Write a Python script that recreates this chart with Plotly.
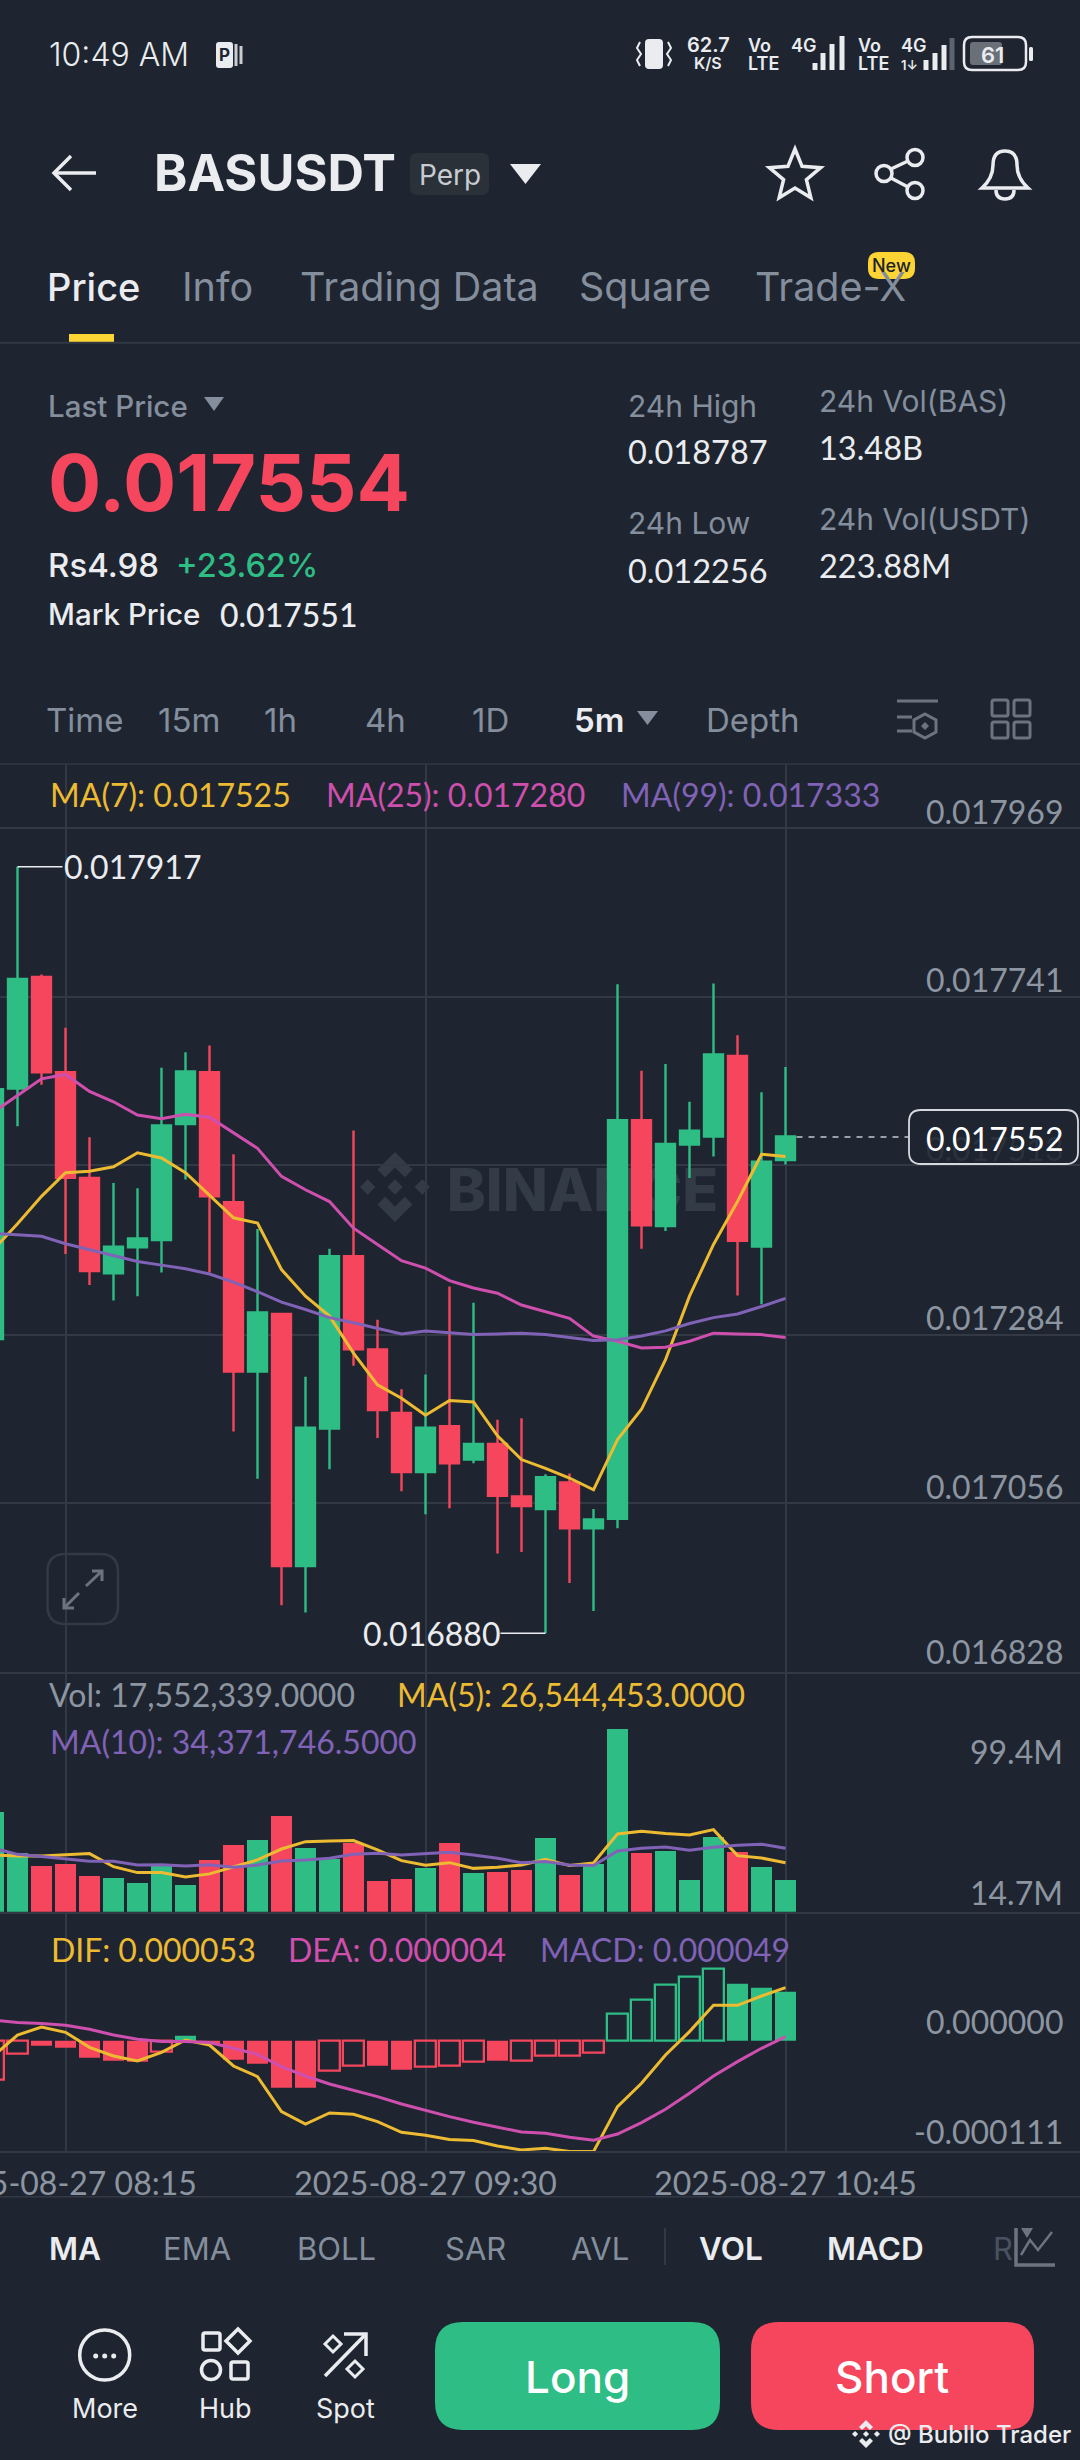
import math
import pandas as pd
import plotly.graph_objects as go

# candles, 5m, prices in 1e-6 USDT
times = [
    "2025-08-27 08:00", "2025-08-27 08:05", "2025-08-27 08:10", "2025-08-27 08:15", "2025-08-27 08:20",
    "2025-08-27 08:25", "2025-08-27 08:30", "2025-08-27 08:35", "2025-08-27 08:40", "2025-08-27 08:45",
    "2025-08-27 08:50", "2025-08-27 08:55", "2025-08-27 09:00", "2025-08-27 09:05", "2025-08-27 09:10",
    "2025-08-27 09:15", "2025-08-27 09:20", "2025-08-27 09:25", "2025-08-27 09:30", "2025-08-27 09:35",
    "2025-08-27 09:40", "2025-08-27 09:45", "2025-08-27 09:50", "2025-08-27 09:55", "2025-08-27 10:00",
    "2025-08-27 10:05", "2025-08-27 10:10", "2025-08-27 10:15", "2025-08-27 10:20", "2025-08-27 10:25",
    "2025-08-27 10:30", "2025-08-27 10:35", "2025-08-27 10:40", "2025-08-27 10:45",
]
tick_times = ["2025-08-27 08:15", "2025-08-27 09:30", "2025-08-27 10:45"]

opens = [17278, 17617, 17768, 17639, 17496, 17367, 17402, 17412, 17569, 17639, 17463, 17234,
         17312, 16971, 17157, 17390, 17264, 17178, 17098, 17160, 17115, 17136, 17065, 17048,
         17084, 17022, 17035, 17574, 17431, 17541, 17552, 17661, 17403, 17520]
closes = [17616, 17765, 17639, 17496, 17370, 17403, 17414, 17567, 17640, 17471, 17234, 17314,
          16971, 17158, 17390, 17264, 17182, 17098, 17158, 17110, 17136, 17066, 17052, 17091,
          17022, 17034, 17574, 17432, 17542, 17560, 17663, 17411, 17518, 17552]
highs = [17640, 17917, 17771, 17699, 17551, 17489, 17482, 17645, 17666, 17675, 17528, 17427,
         17312, 17227, 17400, 17560, 17304, 17210, 17230, 17349, 17327, 17169, 17171, 17095,
         17096, 17048, 17758, 17641, 17650, 17599, 17759, 17689, 17612, 17646]
lows = [17260, 17566, 17622, 17393, 17351, 17330, 17336, 17368, 17494, 17368, 17153, 17089,
        16918, 16908, 17102, 17242, 17144, 17072, 17041, 17049, 17110, 16988, 16990, 16880,
        16948, 16910, 17022, 17400, 17424, 17496, 17525, 17337, 17325, 17514]

ma7 = [17399, 17434, 17471, 17503, 17505, 17511, 17530, 17523, 17503, 17473, 17442, 17435,
       17372, 17336, 17309, 17259, 17216, 17198, 17175, 17195, 17193, 17147, 17115, 17103,
       17090, 17074, 17142, 17183, 17250, 17336, 17406, 17464, 17528, 17525]
ma25 = [17585, 17608, 17630, 17636, 17613, 17599, 17581, 17576, 17582, 17578, 17557, 17536,
        17498, 17480, 17464, 17428, 17406, 17384, 17374, 17357, 17347, 17340, 17324, 17315,
        17306, 17282, 17275, 17266, 17267, 17275, 17286, 17285, 17284, 17280]
ma99 = [17421, 17419, 17417, 17407, 17399, 17392, 17383, 17378, 17373, 17366, 17355, 17342,
        17328, 17318, 17307, 17300, 17293, 17285, 17289, 17286, 17284, 17285, 17286, 17284,
        17280, 17276, 17277, 17282, 17289, 17299, 17307, 17312, 17322, 17333]

# volume in millions
volume = [54.1, 32.0, 24.8, 26.1, 19.4, 18.3, 15.7, 25.3, 14.8, 28.2, 36.6, 39.3,
          52.1, 34.8, 29.0, 37.5, 17.0, 17.9, 24.1, 37.3, 21.4, 21.9, 22.8, 40.0,
          20.3, 26.2, 99.2, 31.9, 32.9, 17.6, 40.9, 32.4, 24.3, 17.55]
vol_ma5 = [30.8, 30.2, 30.2, 31.0, 31.5, 24.4, 21.2, 21.2, 18.8, 20.5, 24.1, 28.1,
           34.0, 38.0, 38.4, 38.6, 33.5, 27.7, 25.2, 26.6, 23.5, 24.1, 25.3, 28.4,
           25.0, 26.4, 42.2, 43.6, 42.4, 41.6, 44.5, 30.4, 29.1, 26.54]
vol_ma10 = [34.4, 31.1, 29.9, 28.4, 27.3, 27.3, 25.3, 25.5, 24.8, 25.5, 24.1, 25.3,
            27.5, 28.1, 29.0, 31.1, 31.7, 30.8, 31.7, 32.2, 30.8, 29.0, 26.6, 27.2,
            25.3, 25.0, 32.9, 34.4, 35.1, 33.3, 34.9, 36.0, 36.6, 34.37]

# macd in 1e-6
macd_hist = [-39.7, -13, -5, -7, -17.3, -20.7, -21.3, -11.3, 4.3, -3.7, -19, -23.7,
             -47, -47, -30.7, -25.3, -25.3, -29, -26.3, -25.3, -21, -20, -20.3, -15.7,
             -15, -12.7, 26.7, 41, 55.3, 63.7, 72, 57, 52.3, 49]
macd_hollow = [1, 1, 0, 0, 0, 0, 0, 1, 0, 0, 0, 0,
               0, 0, 1, 1, 0, 0, 1, 1, 1, 0, 1, 1,
               1, 1, 1, 1, 1, 1, 1, 0, 0, 0]
dif = [-15.7, 5.3, 13.3, 8, -7, -15.7, -20.7, -12, 0.3, -4.7, -25.7, -36.3,
       -71.3, -83.7, -72.7, -74, -81.3, -92, -95, -99.3, -100.3, -105.7, -109.7, -108,
       -111.3, -111.3, -66.3, -43, -14.7, 8.7, 35, 35, 44.3, 52.7]
dea = [20.3, 17.7, 16.7, 15, 11, 5.3, 1, -1.3, -1.3, -2.3, -8, -14,
       -26.3, -35.7, -43.7, -50, -56.3, -63.7, -70.3, -76.3, -82, -87, -91.7, -93,
       -97, -100, -93.7, -82.3, -69, -53, -35.7, -21.3, -8, 3.7]

price_ticks = [17969, 17741, 17513, 17284, 17056, 16828]
price_labels = ["0.017969", "0.017741", "0.017513", "0.017284", "0.017056", "0.016828"]

W, H = 1080, 2460
BG = "#1e2530"
GRID = "#323945"
GREEN = "#2ebd85"
RED = "#f6465d"
YELLOW = "#edbb32"
PINK = "#cf4fae"
PURPLE = "#8062b6"
GRAY = "#848e9c"
AXIS_GRAY = "#8d95a1"
WHITE = "#eaecef"
FONT = "Inter"
NUM = "Lato"  # tabular digits, closer to the app's number widths


def px(x):
    return x / W


def py(y):
    return 1 - y / H


shapes = []
annots = []


def label(text, x, y, size, color=WHITE, anchor="left", weight=400, font=FONT):
    annots.append(dict(text=text, x=px(x), y=py(y), xref="paper", yref="paper", showarrow=False,
                       xanchor=anchor, yanchor="middle", borderpad=0,
                       font=dict(family=font, size=size, color=color, weight=weight)))


def svg(d):
    # path written in page pixels, converted to paper coords
    out, is_x = [], True
    for t in d.split():
        if t.isalpha():
            out.append(t)
        else:
            out.append(str(px(float(t))) if is_x else str(py(float(t))))
            is_x = not is_x
    return " ".join(out)


def path(d, fill=None, line=None, width=0, layer="above"):
    shapes.append(dict(type="path", path=svg(d), xref="paper", yref="paper", layer=layer,
                       fillcolor=fill or "rgba(0,0,0,0)",
                       line=dict(color=line or "rgba(0,0,0,0)", width=width)))


def rrect(x0, y0, x1, y1, r, fill=None, line=None, width=0, layer="above"):
    d = (f"M {x0 + r} {y0} L {x1 - r} {y0} Q {x1} {y0} {x1} {y0 + r} L {x1} {y1 - r} "
         f"Q {x1} {y1} {x1 - r} {y1} L {x0 + r} {y1} Q {x0} {y1} {x0} {y1 - r} "
         f"L {x0} {y0 + r} Q {x0} {y0} {x0 + r} {y0} Z")
    path(d, fill, line, width, layer)


def circle(cx, cy, r, fill=None, line=None, width=0):
    shapes.append(dict(type="circle", xref="paper", yref="paper", x0=px(cx - r), x1=px(cx + r),
                       y0=py(cy + r), y1=py(cy - r), fillcolor=fill or "rgba(0,0,0,0)",
                       line=dict(color=line or "rgba(0,0,0,0)", width=width)))


def hline(x0, x1, y, color=GRID, width=1.5):
    path(f"M {x0} {y} L {x1} {y}", None, color, width)


def diamond(cx, cy, r, fill=None, line=None, width=0, layer="above"):
    path(f"M {cx} {cy - r} L {cx + r} {cy} L {cx} {cy + r} L {cx - r} {cy} Z", fill, line, width, layer)


def logo(cx, cy, r, color, layer="above"):
    s = 0.22 * r
    diamond(cx, cy, s, color, layer=layer)
    diamond(cx - 0.78 * r, cy, s, color, layer=layer)
    diamond(cx + 0.78 * r, cy, s, color, layer=layer)
    for sign in (-1, 1):
        path(f"M {cx} {cy + sign * r} L {cx + 0.5 * r} {cy + sign * 0.5 * r} L {cx + 0.28 * r} {cy + sign * 0.28 * r} "
             f"L {cx} {cy + sign * 0.56 * r} L {cx - 0.28 * r} {cy + sign * 0.28 * r} "
             f"L {cx - 0.5 * r} {cy + sign * 0.5 * r} Z", color, layer=layer)


# status bar
label("10:49 AM", 48, 55, 32, WHITE, weight=300)
rrect(216, 42, 233, 68, 3, WHITE)
label("P", 224.5, 55, 17, BG, "center", 700)
path("M 236 44 L 236 66", None, "#c9ccd1", 3)
path("M 241 46 L 241 64", None, "#c9ccd1", 3)
rrect(645, 39, 663, 69, 4, WHITE)
path("M 640 42 L 637 48 L 641 54 L 637 60 L 640 66", None, WHITE, 2)
path("M 668 42 L 671 48 L 667 54 L 671 60 L 668 66", None, WHITE, 2)
label("62.7", 708, 45, 20, WHITE, "center", 600)
label("K/S", 708, 63, 16, WHITE, "center", 600)
label("Vo", 747, 46, 18, WHITE, weight=600)
label("LTE", 747, 64, 18, WHITE, weight=600)
label("4G", 790, 46, 18, WHITE, weight=600)
for bx, top in zip([815, 823, 832, 842], [63, 53, 44, 36]):
    path(f"M {bx} {top} L {bx} 70", None, WHITE, 5)
label("Vo", 857, 46, 18, WHITE, weight=600)
label("LTE", 857, 64, 18, WHITE, weight=600)
label("4G", 900, 46, 18, WHITE, weight=600)
label("1↓", 900, 65, 13, WHITE, weight=600)
for bx, top, col in zip([926, 935, 944, 952], [60, 53, 45, 38], [WHITE, WHITE, WHITE, "#5c6470"]):
    path(f"M {bx} {top} L {bx} 70", None, col, 5)
rrect(970, 42, 1002, 65, 3, "#6a7078")
rrect(964, 37, 1026, 70, 8, None, WHITE, 2.5)
rrect(1029, 47, 1033, 61, 1.5, WHITE)
label("61", 992, 55, 22, WHITE, "center", 600)

# header
path("M 54 173 L 96 173", None, WHITE, 3.5)
path("M 71 156 L 54 173 L 71 190", None, WHITE, 3.5)
label("BASUSDT", 153, 172, 50.5, WHITE, weight=700)
rrect(410, 153, 489, 195, 7, "#2b3139")
label("Perp", 449.5, 175, 28, "#c7ccd3", "center")
path("M 510 164 L 541 164 L 525.5 184 Z", WHITE)
star = []
for i in range(10):
    r = 27 if i % 2 == 0 else 12
    a = -math.pi / 2 + i * math.pi / 5
    star.append(f"{'M' if i == 0 else 'L'} {795 + r * math.cos(a)} {176 + r * math.sin(a)}")
path(" ".join(star) + " Z", None, WHITE, 3.5)
for cx, cy in [(884, 173.5), (915, 157.5), (915, 190.5)]:
    circle(cx, cy, 8, None, WHITE, 3.5)
path("M 891 169 L 908 161", None, WHITE, 3.5)
path("M 891 178 L 908 187", None, WHITE, 3.5)
path("M 982 188 Q 993 178 993 165 Q 993 151 1005 151 Q 1017 151 1017 165 Q 1017 178 1028 188 Z", None, WHITE, 3.5)
path("M 996 190 Q 996 199 1005 199 Q 1014 199 1014 190", None, WHITE, 3.5)

# tabs
label("Price", 45.5, 287, 38, WHITE, weight=500)
label("Info", 181, 287, 39.5, GRAY)
label("Trading Data", 298.5, 287, 39.5, GRAY)
label("Square", 578, 287, 39.5, GRAY)
label("Trade-X", 754, 287, 39.5, GRAY)
rrect(868, 252, 915, 279, 11, "#fcd535")
label("New", 891.5, 265.5, 18, "#1e2329", "center", 500)
path("M 69 338 L 114 338", None, "#fcd535", 8)
hline(0, 1080, 342.7, "#323945", 2)

# ticker block
label("Last Price", 47, 405.7, 29.5, GRAY, weight=500)
path("M 204 397 L 224 397 L 214 411 Z", GRAY)
label("0.017554", 47, 482, 79, RED, weight=700)
label("Rs4.98", 47, 565, 33, WHITE, weight=500)
label("+23.62%", 175, 565, 32.5, GREEN, weight=500)
label("Mark Price", 47, 614, 29.5, WHITE, weight=500)
label("0.017551", 219, 614, 32, WHITE, weight=500, font=NUM)
label("24h High", 627, 405.7, 30, GRAY)
label("0.018787", 627, 452, 32.5, WHITE, font=NUM)
label("24h Low", 627, 523.5, 30, GRAY)
label("0.012256", 627, 570.5, 32.5, WHITE, font=NUM)
label("24h Vol(BAS)", 818, 401, 30, GRAY)
label("13.48B", 818, 447.4, 32.5, WHITE, font=NUM)
label("24h Vol(USDT)", 818, 518.7, 30, GRAY)
label("223.88M", 818, 565, 32.5, WHITE, font=NUM)

# interval row
for txt, x in [("Time", 45), ("15m", 157), ("1h", 263), ("4h", 364), ("1D", 471), ("Depth", 705)]:
    label(txt, x, 720, 33, GRAY)
label("5m", 573, 720, 33, WHITE, weight=600)
path("M 637 711 L 658 711 L 647.5 725 Z", GRAY)
hline(897, 938, 701, "#6c7480", 3)
hline(897, 912, 717, "#6c7480", 3)
hline(897, 912, 731, "#6c7480", 3)
path("M 925 714 L 936 720 L 936 732 L 925 738 L 914 732 L 914 720 Z", None, "#6c7480", 3)
diamond(925, 726, 4, "#6c7480")
for x0 in (992, 1014):
    for y0 in (700, 722):
        rrect(x0, y0, x0 + 16, y0 + 16, 2, None, "#6c7480", 3)

# chart frame
hline(0, 1080, 764)
hline(0, 1080, 2196.7)

# watermark sits under the candles
logo(395, 1187, 35, "#333b47", layer="below")
shapes.append(dict(type="rect", xref="paper", yref="paper", x0=px(446), x1=px(719), y0=py(1215), y1=py(1160),
                   layer="below", line=dict(width=0), fillcolor="rgba(0,0,0,0)",
                   label=dict(text="BINANCE", textposition="middle center",
                              font=dict(family=FONT, size=59, color="#333b47", weight=800))))

# legends
label("MA(7): 0.017525", 49, 794, 32, YELLOW, font=NUM)
label("MA(25): 0.017280", 325, 794, 32, PINK, font=NUM)
label("MA(99): 0.017333", 620, 794, 32, PURPLE, font=NUM)
label("Vol: 17,552,339.0000", 48, 1694, 32, AXIS_GRAY, font=NUM)
label("MA(5): 26,544,453.0000", 396, 1694, 32, YELLOW, font=NUM)
label("MA(10): 34,371,746.5000", 49, 1741.7, 32, PURPLE, font=NUM)
label("DIF: 0.000053", 50, 1949, 32, YELLOW, font=NUM)
label("DEA: 0.000004", 287, 1949, 32, PINK, font=NUM)
label("MACD: 0.000049", 539, 1949, 32, PURPLE, font=NUM)

# axis labels
for val, txt in zip(price_ticks, price_labels):
    hidden = txt == "0.017513"
    annots.append(dict(text=txt, x=px(1064), y=val / 1e6, xref="paper", yref="y", showarrow=False,
                       xanchor="right", yanchor="middle", yshift=20 if val == 16828 else 17, borderpad=0,
                       font=dict(family=NUM, size=32, color="rgba(141,149,161,0.14)" if hidden else AXIS_GRAY)))
label("99.4M", 1064, 1751, 32, AXIS_GRAY, "right", font=NUM)
label("14.7M", 1064, 1892, 32, AXIS_GRAY, "right", font=NUM)
label("0.000000", 1064, 2021, 32, AXIS_GRAY, "right", font=NUM)
label("-0.000111", 1064, 2131.7, 32, AXIS_GRAY, "right", font=NUM)

# last price tag
path("M 796.5 1137 L 909 1137", None, "#c4c9d0", 1.5)
shapes[-1]["line"]["dash"] = "6px,6px"
rrect(909, 1110, 1078, 1164, 12, "rgba(30,37,48,0.6)", "#d5d9de", 1.8)
label("0.017552", 1064, 1138, 32, "#ffffff", "right", font=NUM)

# high / low callouts
annots.append(dict(text="0.017917", x=times[1], y=max(highs) / 1e6, xref="x", yref="y", showarrow=True,
                   ax=45, ay=0, axref="pixel", ayref="pixel", xanchor="left", yanchor="middle",
                   arrowhead=0, arrowwidth=1.5, arrowcolor=WHITE, standoff=0, borderpad=0,
                   font=dict(family=NUM, size=32, color=WHITE)))
annots.append(dict(text="0.016880", x=times[23], y=min(lows) / 1e6, xref="x", yref="y", showarrow=True,
                   ax=-45, ay=0, axref="pixel", ayref="pixel", xanchor="right", yanchor="middle",
                   arrowhead=0, arrowwidth=1.5, arrowcolor=WHITE, standoff=0, borderpad=0,
                   font=dict(family=NUM, size=32, color=WHITE)))

# expand button
rrect(47.5, 1554, 118, 1624, 18, None, "#333a46", 2.5)
for seg in ["M 86 1586 L 102 1571", "M 92 1571 L 102 1571 L 102 1581", "M 79 1593 L 64 1608", "M 64 1598 L 64 1608 L 74 1608"]:
    path(seg, None, "#6c7480", 3)

# indicator row
for txt, x in [("EMA", 162), ("BOLL", 296), ("SAR", 444), ("AVL", 570)]:
    label(txt, x, 2248, 31, GRAY)
for txt, x in [("MA", 48), ("VOL", 698), ("MACD", 826)]:
    label(txt, x, 2248, 31.5, WHITE, weight=600)
label("R", 992, 2248, 31, "#4a5260")
path("M 665 2228 L 665 2265", None, "#323945", 2)
path("M 1016 2228 L 1016 2265 L 1055 2265", None, "#6c7480", 3.5)
path("M 1021 2255 L 1030 2240 L 1038 2250 L 1052 2232", None, "#6c7480", 2.5)
path("M 1021 2228 L 1033 2228 L 1027 2238 Z", "#6c7480")

# bottom buttons
circle(104.7, 2355, 25, None, WHITE, 3.5)
for dx in (-9, 0, 9):
    circle(104.7 + dx, 2356, 2.5, WHITE)
label("More", 104.7, 2408, 27, WHITE, "center")
rrect(203, 2333, 220, 2350, 2, None, WHITE, 3.5)
diamond(238, 2341, 12, None, WHITE, 3.5)
circle(211, 2370, 9.5, None, WHITE, 3.5)
rrect(231, 2362, 248, 2379, 2, None, WHITE, 3.5)
label("Hub", 225, 2408, 27, WHITE, "center")
path("M 325 2376 L 366 2334", None, WHITE, 3.5)
path("M 344 2334 L 366 2334 L 366 2356", None, WHITE, 3.5)
diamond(333, 2344, 8, None, WHITE, 3)
diamond(355, 2369, 8, None, WHITE, 3)
label("Spot", 345, 2408, 27, WHITE, "center")
rrect(435, 2322, 720, 2430, 28, GREEN)
rrect(751, 2322, 1034, 2430, 28, RED)
label("Long", 577, 2377, 44, "#ffffff", "center", 500)
label("Short", 892, 2377, 44, "#ffffff", "center", 500)
logo(866, 2434, 14, WHITE)
label("@ Bubllo Trader", 887, 2434, 24, WHITE, weight=500)

up = [c >= o for o, c in zip(opens, closes)]
t = pd.to_datetime(times)
BAR_MS = 5 * 60 * 1000
x_left = t[0] + pd.Timedelta(minutes=5 * 6.5 / 24)
x_right = t[-1] + pd.Timedelta(minutes=5 * (W - 785.5) / 24)
x_range = [x_left.strftime("%Y-%m-%d %H:%M:%S.%f"), x_right.strftime("%Y-%m-%d %H:%M:%S.%f")]


def micro(vals):
    return [v / 1e6 for v in vals]


fig = go.Figure()
fig.add_trace(go.Candlestick(
    x=times, open=micro(opens), high=micro(highs), low=micro(lows), close=micro(closes),
    increasing=dict(line=dict(color=GREEN, width=2.4), fillcolor=GREEN),
    decreasing=dict(line=dict(color=RED, width=2.4), fillcolor=RED),
    whiskerwidth=0, hoverinfo="skip", xaxis="x", yaxis="y",
))
for vals, col in [(ma7, YELLOW), (ma25, PINK), (ma99, PURPLE)]:
    fig.add_trace(go.Scatter(x=times, y=micro(vals), mode="lines", line=dict(color=col, width=3),
                             hoverinfo="skip", xaxis="x", yaxis="y"))

fig.add_trace(go.Bar(x=times, y=volume, width=BAR_MS * 21.3 / 24,
                     marker=dict(color=[GREEN if u else RED for u in up], line=dict(width=0)),
                     hoverinfo="skip", xaxis="x2", yaxis="y2"))
for vals, col in [(vol_ma5, YELLOW), (vol_ma10, PURPLE)]:
    fig.add_trace(go.Scatter(x=times, y=vals, mode="lines", line=dict(color=col, width=3),
                             hoverinfo="skip", xaxis="x2", yaxis="y2"))

hist_col = [GREEN if v >= 0 else RED for v in macd_hist]
fig.add_trace(go.Bar(
    x=times, y=[v / 1e6 for v in macd_hist],
    width=[BAR_MS * (20.2 if h else 21.3) / 24 for h in macd_hollow],
    marker=dict(color=["rgba(0,0,0,0)" if h else c for h, c in zip(macd_hollow, hist_col)],
                line=dict(color=hist_col, width=[2.3 if h else 0 for h in macd_hollow])),
    hoverinfo="skip", xaxis="x3", yaxis="y3",
))
for vals, col in [(dif, YELLOW), (dea, PINK)]:
    fig.add_trace(go.Scatter(x=times, y=micro(vals), mode="lines", line=dict(color=col, width=3),
                             hoverinfo="skip", xaxis="x3", yaxis="y3"))

x_common = dict(type="date", range=x_range, domain=[0, 1], tickmode="array", tickvals=tick_times,
                showgrid=True, gridcolor=GRID, gridwidth=1.5, zeroline=False, ticks="", automargin=False,
                rangeslider=dict(visible=False), fixedrange=True)
y_common = dict(zeroline=False, showticklabels=False, ticks="", automargin=False, fixedrange=True)

# price panel: 228e-6 per 168.68 px, 0.017969 sits at y=828.3
p_per_px = 228 / 168.68
price_top = (17969 + (828.3 - 764) * p_per_px) / 1e6
price_bottom = 16828 / 1e6

fig.update_layout(
    width=W, height=H, autosize=False,
    margin=dict(l=0, r=0, t=0, b=0, pad=0),
    paper_bgcolor=BG, plot_bgcolor="rgba(0,0,0,0)",
    showlegend=False, boxgap=0.21, boxgroupgap=0.0, bargap=0,
    shapes=shapes, annotations=annots,
    xaxis=dict(x_common, anchor="y", showticklabels=False, showline=True, linecolor=GRID, linewidth=1.5),
    yaxis=dict(y_common, domain=[py(1671.7), py(764)], range=[price_bottom, price_top],
               tickmode="array", tickvals=micro(price_ticks), showgrid=True, gridcolor=GRID, gridwidth=1.5),
    xaxis2=dict(x_common, anchor="y2", showticklabels=False, showline=True, linecolor=GRID, linewidth=1.5),
    yaxis2=dict(y_common, domain=[py(1911.7), py(1671.7)], range=[0, 239.7 * 0.543], showgrid=False),
    xaxis3=dict(x_common, anchor="y3", showticklabels=True, tickformat="%Y-%m-%d %H:%M",
                tickfont=dict(family=NUM, size=32, color=AXIS_GRAY), ticklabeloverflow="allow",
                ticklabelstandoff=4, showline=True, linecolor=GRID, linewidth=1.5),
    yaxis3=dict(y_common, domain=[py(2151.3), py(1911.7)], range=[-111e-6, 128.6e-6], showgrid=False),
)

fig.write_html("out.html", config=dict(displayModeBar=False),
               post_script="document.body.style.margin='0';document.body.style.background='%s';" % BG)
